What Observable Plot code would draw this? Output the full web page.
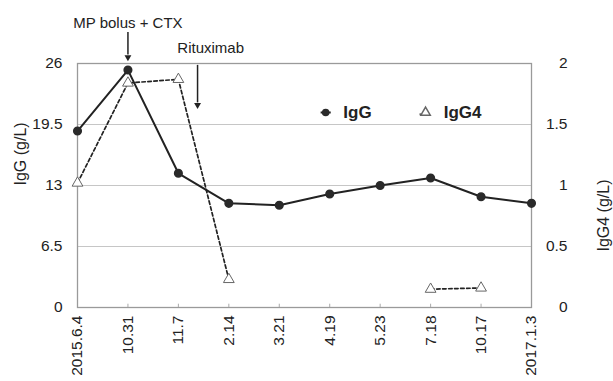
<!DOCTYPE html>
<html><head><meta charset="utf-8">
<script src="https://cdn.jsdelivr.net/npm/d3@7"></script>
<script src="https://cdn.jsdelivr.net/npm/@observablehq/plot@0.6"></script>
<style>body{margin:0;background:#fff}</style>
</head><body><div id="chart"></div>
<script>
const dates = ["2015.6.4","10.31","11.7","2.14","3.21","4.19","5.23","7.18","10.17","2017.1.3"];
const igg = [18.8, 25.3, 14.3, 11.1, 10.9, 12.1, 13.0, 13.8, 11.8, 11.1];
const igg4 = [1.02, 1.84, 1.87, 0.23, null, null, null, 0.15, 0.16, null];
const leftTicks = [0, 6.5, 13, 19.5, 26];
const rightTicks = [0, 0.5, 1, 1.5, 2];
const gridLines = [6.5, 13, 19.5];

const k = 26 / 2; // right axis (IgG4) mapped onto left axis
const rows = dates.map((d, i) => ({i, d, igg: igg[i], igg4: igg4[i] == null ? NaN : igg4[i] * k}));
const font = "'Liberation Sans', Arial, Helvetica, sans-serif";

const chart = Plot.plot({
  width: 613, height: 381,
  marginLeft: 77, marginRight: 82, marginTop: 63, marginBottom: 74,
  style: {fontFamily: font, fontSize: "15px", color: "#222", background: "#fff"},
  x: {domain: [0, dates.length - 1], axis: null},
  y: {domain: [0, 26], axis: null},
  marks: [
    Plot.ruleY(gridLines, {stroke: "#c6c6c6", strokeWidth: 1.2}),
    Plot.frame({stroke: "#9a9a9a", strokeWidth: 1.3}),
    Plot.ruleX(d3.range(1, dates.length - 1), {x: d => d, y1: 0, y2: 0.35, stroke: "#aaa"}),
    Plot.axisX({ticks: d3.range(dates.length), tickFormat: i => dates[i], tickRotate: -90, tickSize: 0, tickPadding: 8, fontSize: 15.5, fill: "#222", label: null}),
    Plot.axisY({anchor: "left", ticks: leftTicks, tickFormat: d => String(d), tickSize: 0, tickPadding: 15, fontSize: 15.5, label: null, fill: "#222"}),
    Plot.axisY({anchor: "right", ticks: leftTicks, tickFormat: d => String(rightTicks[leftTicks.indexOf(d)]), tickSize: 0, tickPadding: 36, textAnchor: "end", fontSize: 15.5, label: null, fill: "#222"}),
    Plot.text(["IgG (g/L)"], {frameAnchor: "left", dx: -57, rotate: -90, fontSize: 16, fill: "#222"}),
    Plot.text(["IgG4 (g/L)"], {frameAnchor: "right", dx: 72, dy: -6, rotate: -90, fontSize: 16, fill: "#222"}),
    // IgG
    Plot.line(rows, {x: "i", y: "igg", stroke: "#222", strokeWidth: 2}),
    Plot.dot(rows, {x: "i", y: "igg", r: 3.8, fill: "#2a2a2a", stroke: "#2a2a2a"}),
    // IgG4
    Plot.line(rows, {x: "i", y: "igg4", stroke: "#222", strokeWidth: 1.7, strokeDasharray: "3.5,2.5"}),
    Plot.dot(rows, {x: "i", y: "igg4", symbol: "triangle", r: 4, fill: "#fff", stroke: "#666", strokeWidth: 1}),
    // annotations
    Plot.text(["MP bolus + CTX"], {x: 1, y: 30.3, fontSize: 15, fill: "#222"}),
    Plot.ruleX([1], {x: d => d, y1: 29.3, y2: 26.9, stroke: "#222", strokeWidth: 1.5}),
    Plot.dot([1], {x: d => d, y: 26.1, dy: -5.4, symbol: "triangle2", rotate: 180, r: 3.3, fill: "#222"}),
    Plot.text(["Rituximab"], {x: 2.64, y: 27.6, fontSize: 15, fill: "#222"}),
    Plot.ruleX([2.38], {x: d => d, y1: 25.8, y2: 21.8, stroke: "#222", strokeWidth: 1.5}),
    Plot.dot([2.38], {x: d => d, y: 21.0, dy: -5.4, symbol: "triangle2", rotate: 180, r: 3.3, fill: "#222"}),
    // legend
    Plot.link([0], {x1: 4.82, x2: 5.02, y1: 20.78, y2: 20.78, stroke: "#222", strokeWidth: 2}),
    Plot.dot([0], {x: 4.92, y: 20.78, r: 3.8, fill: "#2a2a2a"}),
    Plot.text(["IgG"], {x: 5.27, y: 20.78, textAnchor: "start", fontSize: 17, fontWeight: "bold", fill: "#222"}),
    Plot.link([0], {x1: 6.78, x2: 6.9, y1: 20.6, y2: 20.6, stroke: "#222", strokeWidth: 1.3, strokeDasharray: "2,1.5"}),
    Plot.dot([0], {x: 6.9, y: 20.78, symbol: "triangle", r: 3.5, fill: "#fff", stroke: "#666"}),
    Plot.text(["IgG4"], {x: 7.26, y: 20.78, textAnchor: "start", fontSize: 17, fontWeight: "bold", fill: "#222"})
  ]
});
document.getElementById("chart").append(chart);
</script>
</body></html>
